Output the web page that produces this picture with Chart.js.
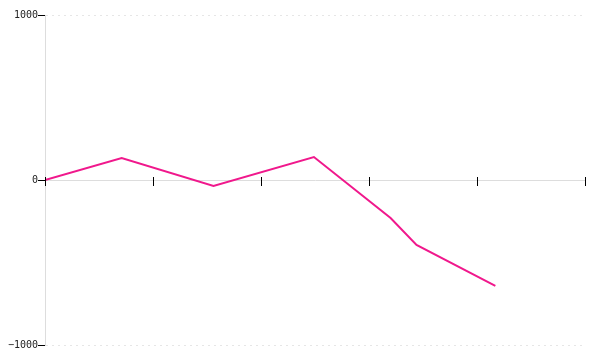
<!DOCTYPE html>
<html>
<head>
<meta charset="utf-8">
<script src="https://cdn.jsdelivr.net/npm/chart.js@4/dist/chart.umd.min.js"></script>
<style>
  html, body { margin: 0; padding: 0; background: #fff; }
  #wrap { width: 600px; height: 360px; }
</style>
</head>
<body>
<div id="wrap"><canvas id="c" width="600" height="360"></canvas></div>
<script>
const xValues = [0, 0.71, 1.56, 2.49, 3.20, 3.44, 4.17];
const yValues = [0, 133, -36, 139, -230, -394, -642];
const yTicks = [-1000, 0, 1000];
const xTicks = [0, 1, 2, 3, 4, 5];

const points = xValues.map((x, i) => ({ x: x, y: yValues[i] }));

// draws the x tick marks straddling the zero line, at the x scale's own tick positions
const xTickMarks = {
  id: 'xTickMarks',
  afterDatasetsDraw(chart) {
    const xs = chart.scales.x, ys = chart.scales.y;
    const y0 = Math.round(ys.getPixelForValue(0));
    const ctx = chart.ctx;
    ctx.save();
    ctx.strokeStyle = '#000';
    ctx.lineWidth = 1;
    ctx.beginPath();
    xs.ticks.forEach(t => {
      const px = Math.round(xs.getPixelForValue(t.value)) + 0.5;
      ctx.moveTo(px, y0 - 3);
      ctx.lineTo(px, y0 + 6);
    });
    ctx.stroke();
    ctx.restore();
  }
};

new Chart(document.getElementById('c'), {
  type: 'line',
  data: {
    datasets: [{
      data: points,
      borderColor: '#f0188c',
      borderWidth: 2,
      pointRadius: 0,
      tension: 0,
      fill: false
    }]
  },
  plugins: [xTickMarks],
  options: {
    responsive: false,
    animation: false,
    layout: { padding: { top: 15, bottom: 15, right: 15, left: 0 } },
    plugins: { legend: { display: false }, tooltip: { enabled: false } },
    scales: {
      x: {
        type: 'linear',
        position: { y: 0 },
        min: xTicks[0],
        max: xTicks[xTicks.length - 1],
        afterBuildTicks: s => { s.ticks = xTicks.map(v => ({ value: v })); },
        afterFit: s => { s.height = 0; },
        ticks: { display: false },
        grid: {
          display: false
        },
        border: { display: true, color: '#dddddd', width: 1 }
      },
      y: {
        min: yTicks[0],
        max: yTicks[yTicks.length - 1],
        afterBuildTicks: s => { s.ticks = yTicks.map(v => ({ value: v })); },
        afterFit: s => { s.width = 45; },
        ticks: {
          color: '#222',
          padding: 0,
          callback: v => String(v).replace('-', '\u2212'),
          font: { family: 'DejaVu Sans Mono', size: 10 }
        },
        grid: {
          color: '#e6e6e6',
          tickColor: '#000',
          tickLength: 7,
          tickBorderDash: [],
          drawTicks: true
        },
        border: { display: true, color: '#dddddd', width: 1, dash: [2, 4] }
      }
    }
  }
});
</script>
</body>
</html>
